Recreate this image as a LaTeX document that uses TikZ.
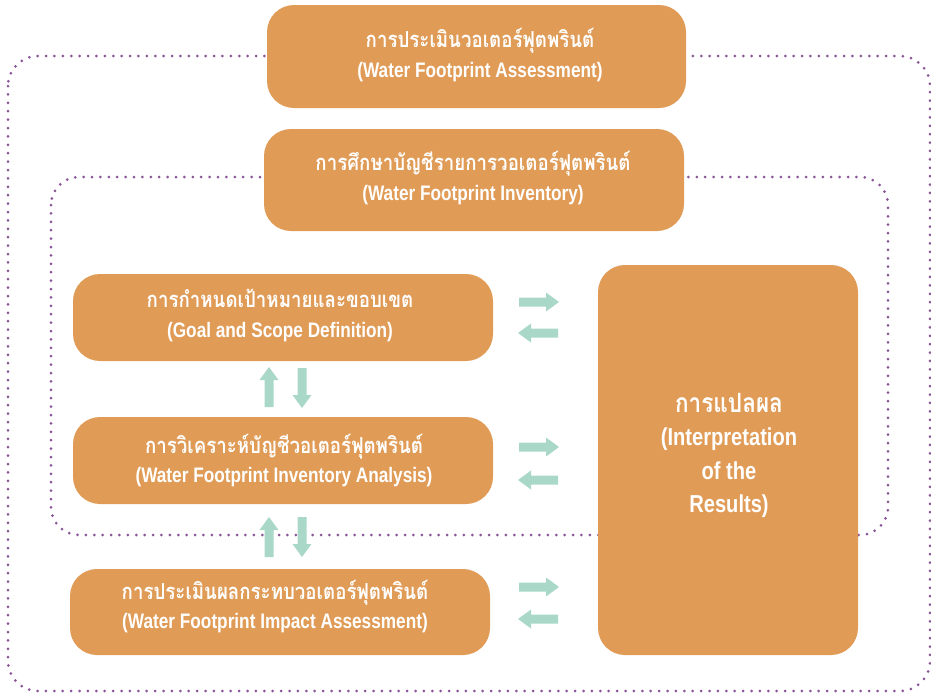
\documentclass[tikz,border=0pt]{standalone}
\usepackage{fontspec}
\setmainfont{Liberation Sans}[FakeStretch=0.82]
\newfontfamily\thaifont[Script=Thai,FakeStretch=0.85]{Loma}

\definecolor{boxorange}{HTML}{E09B56}
\definecolor{arrowgreen}{HTML}{A9D8C8}
\definecolor{dotpurple}{HTML}{8A5598}

\tikzset{
  stagebox/.style={fill=boxorange, rounded corners=27pt, inner sep=0pt, draw=none},
  lbl/.style={text=white, anchor=base, inner sep=0pt,
              font=\bfseries\fontsize{21}{21}\selectfont},
  thlbl/.style={lbl, font=\thaifont\bfseries\fontsize{22}{22}\selectfont},
  biglbl/.style={lbl, font=\bfseries\fontsize{24.5}{24.5}\selectfont},
  bigthlbl/.style={lbl, font=\thaifont\bfseries\fontsize{26.5}{26.5}\selectfont},
  dotline/.style={draw=dotpurple, line width=3pt, line cap=round,
                  dash pattern=on 0pt off 8.4pt},
  flowarrow/.pic={
    \fill[arrowgreen] (-20,-4.5) -- (7,-4.5) -- (7,-9.5) -- (20,0)
      -- (7,9.5) -- (7,4.5) -- (-20,4.5) -- cycle;
  }
}

\begin{document}
\begin{tikzpicture}[x=1pt, y=-1pt]
\useasboundingbox (0,0) rectangle (931,694);

% dotted frames: whole assessment and the inventory part
\draw[dotline, rounded corners=30pt] (8,56) rectangle (930,691);
\draw[dotline, rounded corners=28pt] (51,177) rectangle (888,535);

% stage boxes
\node[stagebox, minimum width=419pt, minimum height=103pt] (assess) at (476.5,56.5) {};
\node[stagebox, minimum width=420pt, minimum height=102pt] (inv) at (474,180) {};
\node[stagebox, minimum width=420pt, minimum height=87pt] (goal) at (283,317.5) {};
\node[stagebox, minimum width=420pt, minimum height=87pt] (ana) at (283,460.5) {};
\node[stagebox, minimum width=420pt, minimum height=86pt] (imp) at (280,612) {};
\node[stagebox, minimum width=260pt, minimum height=390pt] (interp) at (728,460) {};

% labels
\node[thlbl] (assessT) at (480,47) {การประเมินวอเตอร์ฟุตพรินต์};
\node[lbl] (assessE) at (480,77) {(Water Footprint Assessment)};

\node[thlbl] (invT) at (473,170) {การศึกษาบัญชีรายการวอเตอร์ฟุตพรินต์};
\node[lbl] (invE) at (473,200) {(Water Footprint Inventory)};

\node[thlbl] (goalT) at (280,307) {การกำหนดเป้าหมายและขอบเขต};
\node[lbl] (goalE) at (280,337) {(Goal and Scope Definition)};

\node[thlbl] (anaT) at (284,453) {การวิเคราะห์บัญชีวอเตอร์ฟุตพรินต์};
\node[lbl] (anaE) at (284,482) {(Water Footprint Inventory Analysis)};

\node[thlbl] (impT) at (275,599) {การประเมินผลกระทบวอเตอร์ฟุตพรินต์};
\node[lbl] (impE) at (275,628) {(Water Footprint Impact Assessment)};

\node[bigthlbl] (interpT) at (729,412) {การแปลผล};
\node[biglbl] (interpE1) at (729,445) {(Interpretation};
\node[biglbl] (interpE2) at (729,479) {of the};
\node[biglbl] (interpE3) at (729,512) {Results)};

% exchange arrows towards and from the interpretation
\pic at (539,302) {flowarrow};
\pic[rotate=180] at (538,333) {flowarrow};
\pic at (539,447) {flowarrow};
\pic[rotate=180] at (538,480) {flowarrow};
\pic at (539,587) {flowarrow};
\pic[rotate=180] at (538,619) {flowarrow};

% arrows between the stages
\pic[rotate=90] at (269,387) {flowarrow};
\pic[rotate=-90] at (302,388) {flowarrow};
\pic[rotate=90] at (269,537) {flowarrow};
\pic[rotate=-90] at (302,537) {flowarrow};
\end{tikzpicture}
\end{document}
